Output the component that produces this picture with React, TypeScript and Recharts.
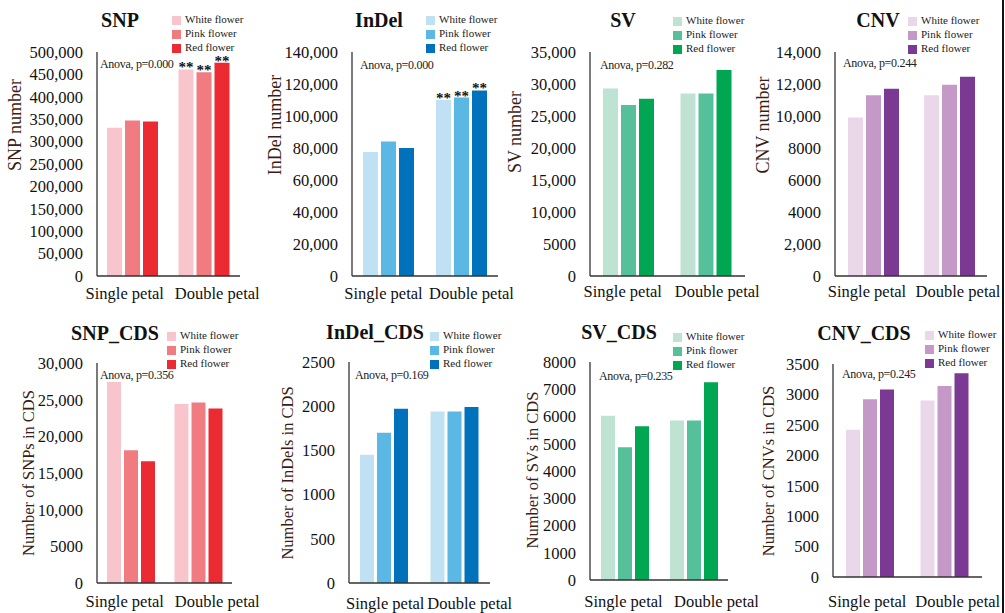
import { BarChart, Bar, XAxis, YAxis, Legend, LabelList } from "recharts";

const categories = ["Single petal", "Double petal"];
const flowers = ["White flower", "Pink flower", "Red flower"];

// each row: [white, pink, red] for one category
const snpValues = [[331000, 347000, 345000], [461000, 455000, 476000]];
const indelValues = [[77500, 84000, 80000], [110000, 111500, 116000]];
const svValues = [[29300, 26700, 27700], [28500, 28500, 32200]];
const cnvValues = [[9900, 11300, 11700], [11300, 11950, 12450]];
const snpCdsValues = [[27400, 18100, 16600], [24400, 24600, 23800]];
const indelCdsValues = [[1450, 1700, 1970], [1940, 1940, 1990]];
const svCdsValues = [[6030, 4870, 5640], [5850, 5850, 7260]];
const cnvCdsValues = [[2420, 2920, 3080], [2900, 3140, 3350]];

const snpTicks = [0, 50000, 100000, 150000, 200000, 250000, 300000, 350000, 400000, 450000, 500000];
const snpTickLabels = ["0", "50,000", "100,000", "150,000", "200,000", "250,000", "300,000", "350,000", "400,000", "450,000", "500,000"];
const indelTicks = [0, 20000, 40000, 60000, 80000, 100000, 120000, 140000];
const indelTickLabels = ["0", "20,000", "40,000", "60,000", "80,000", "100,000", "120,000", "140,000"];
const svTicks = [0, 5000, 10000, 15000, 20000, 25000, 30000, 35000];
const svTickLabels = ["0", "5000", "10,000", "15,000", "20,000", "25,000", "30,000", "35,000"];
const cnvTicks = [0, 2000, 4000, 6000, 8000, 10000, 12000, 14000];
const cnvTickLabels = ["0", "2,000", "4000", "6000", "8000", "10,000", "12,000", "14,000"];
const snpCdsTicks = [0, 5000, 10000, 15000, 20000, 25000, 30000];
const snpCdsTickLabels = ["0", "5000", "10,000", "15,000", "20,000", "25,000", "30,000"];
const indelCdsTicks = [0, 500, 1000, 1500, 2000, 2500];
const indelCdsTickLabels = ["0", "500", "1000", "1500", "2000", "2500"];
const svCdsTicks = [0, 1000, 2000, 3000, 4000, 5000, 6000, 7000, 8000];
const svCdsTickLabels = ["0", "1000", "2000", "3000", "4000", "5000", "6000", "7000", "8000"];
const cnvCdsTicks = [0, 500, 1000, 1500, 2000, 2500, 3000, 3500];
const cnvCdsTickLabels = ["0", "500", "1000", "1500", "2000", "2500", "3000", "3500"];

const reds = ["#F9C5CC", "#F07C82", "#EC2A32"];
const blues = ["#C0E1F3", "#5BB7E4", "#0072BB"];
const greens = ["#BEE3D3", "#56C09B", "#00A651"];
const purples = ["#EAD8EA", "#C498C7", "#7C3994"];

const FONT = '"Liberation Serif", "Times New Roman", serif';
const YW = 95;
const TM = 10;
const RM = 30;
const XH = 40;

type Panel = {
  title: string;
  yLabel: string;
  values: number[][];
  ticks: number[];
  tickLabels: string[];
  colors: string[];
  anova: string;
  sig: boolean;
  plot: number[]; // x0, y0, x1, y1
  titlePos: number[];
  legendPos: number[];
  anovaPos: number[];
  yLabelPos: number[];
  yLabelSize: number;
  labelDx: number[];
  labelGap: number;
  barSize: number;
};

const panels: Panel[] = [
  {
    title: "SNP", yLabel: "SNP number", values: snpValues, ticks: snpTicks, tickLabels: snpTickLabels,
    colors: reds, anova: "Anova, p=0.000", sig: true, plot: [97, 52, 240, 276],
    titlePos: [120, 20], legendPos: [172, 12], anovaPos: [100, 64], yLabelPos: [15, 125], yLabelSize: 18,
    labelDx: [-8, 13], labelGap: 11, barSize: 15,
  },
  {
    title: "InDel", yLabel: "InDel number", values: indelValues, ticks: indelTicks, tickLabels: indelTickLabels,
    colors: blues, anova: "Anova, p=0.000", sig: true, plot: [352, 52, 498, 276],
    titlePos: [379, 20], legendPos: [426, 12], anovaPos: [360, 65], yLabelPos: [275, 125], yLabelSize: 18,
    labelDx: [-5, 10], labelGap: 11, barSize: 15,
  },
  {
    title: "SV", yLabel: "SV number", values: svValues, ticks: svTicks, tickLabels: svTickLabels,
    colors: greens, anova: "Anova, p=0.282", sig: false, plot: [590, 52, 745, 276],
    titlePos: [623, 20], legendPos: [673, 13], anovaPos: [600, 65], yLabelPos: [515, 132], yLabelSize: 18,
    labelDx: [-6, 11], labelGap: 9, barSize: 15,
  },
  {
    title: "CNV", yLabel: "CNV number", values: cnvValues, ticks: cnvTicks, tickLabels: cnvTickLabels,
    colors: purples, anova: "Anova, p=0.244", sig: false, plot: [835, 52, 987, 276],
    titlePos: [878, 20], legendPos: [908, 13], anovaPos: [843, 63], yLabelPos: [763, 125], yLabelSize: 18,
    labelDx: [-6, 9], labelGap: 9, barSize: 15,
  },
  {
    title: "SNP_CDS", yLabel: "Number of SNPs in CDS", values: snpCdsValues, ticks: snpCdsTicks, tickLabels: snpCdsTickLabels,
    colors: reds, anova: "Anova, p=0.356", sig: false, plot: [97, 363, 232, 583],
    titlePos: [115, 333], legendPos: [167, 328], anovaPos: [100, 375], yLabelPos: [28, 473], yLabelSize: 16.5,
    labelDx: [-6, 19], labelGap: 12, barSize: 14,
  },
  {
    title: "InDel_CDS", yLabel: "Number of InDels in CDS", values: indelCdsValues, ticks: indelCdsTicks, tickLabels: indelCdsTickLabels,
    colors: blues, anova: "Anova, p=0.169", sig: false, plot: [349, 362, 490, 583],
    titlePos: [375, 332], legendPos: [430, 328], anovaPos: [355, 375], yLabelPos: [287, 473], yLabelSize: 16.5,
    labelDx: [1, 15], labelGap: 14, barSize: 14,
  },
  {
    title: "SV_CDS", yLabel: "Number of SVs in CDS", values: svCdsValues, ticks: svCdsTicks, tickLabels: svCdsTickLabels,
    colors: greens, anova: "Anova, p=0.235", sig: false, plot: [590, 362, 728, 580],
    titlePos: [619, 332], legendPos: [673, 329], anovaPos: [599, 376], yLabelPos: [532, 470], yLabelSize: 16.5,
    labelDx: [-1, 23], labelGap: 15, barSize: 14,
  },
  {
    title: "CNV_CDS", yLabel: "Number of CNVs in CDS", values: cnvCdsValues, ticks: cnvCdsTicks, tickLabels: cnvCdsTickLabels,
    colors: purples, anova: "Anova, p=0.245", sig: false, plot: [833, 364, 982, 577],
    titlePos: [864, 333], legendPos: [925, 327], anovaPos: [842, 374], yLabelPos: [768, 471], yLabelSize: 16.5,
    labelDx: [-3, 13], labelGap: 18, barSize: 14,
  },
];

const keys = ["w", "p", "r"];

const PanelChart = ({ p }: { p: Panel }) => {
  const [x0, y0, x1, y1] = p.plot;
  const left = x0 - YW;
  const top = y0 - TM;
  const width = x1 - x0 + YW + RM;
  const height = y1 - y0 + TM + XH;
  const data = p.values.map((row, i) => ({ cat: categories[i], w: row[0], p: row[1], r: row[2] }));
  const axisStyle = { stroke: "#333", strokeWidth: 1.3 };

  const xTick = (props: any) => {
    const idx = categories.indexOf(props.payload.value);
    return (
      <text
        x={props.x + p.labelDx[idx]}
        y={y1 - top + p.labelGap + 12}
        textAnchor="middle"
        fontSize={16.5}
        fontFamily={FONT}
        fill="#111"
      >
        {props.payload.value}
      </text>
    );
  };

  const yLabel = () => {
    const lx = p.yLabelPos[0] - left;
    const ly = p.yLabelPos[1] - top;
    return (
      <text
        x={lx}
        y={ly}
        transform={`rotate(-90 ${lx} ${ly})`}
        textAnchor="middle"
        dominantBaseline="central"
        fontSize={p.yLabelSize}
        fontFamily={FONT}
        fill="#3a1d14"
      >
        {p.yLabel}
      </text>
    );
  };

  const stars = (props: any) => {
    if (!p.sig || props.index !== 1) return null;
    return (
      <text
        x={props.x + props.width / 2}
        y={props.y + 3}
        textAnchor="middle"
        fontSize={15}
        fontWeight="bold"
        fontFamily={FONT}
        fill="#111"
      >
        **
      </text>
    );
  };

  return (
    <div style={{ position: "absolute", left, top }}>
      <BarChart
        width={width}
        height={height}
        data={data}
        margin={{ top: TM, right: RM, left: 0, bottom: 0 }}
        barGap={3}
        style={{ overflow: "visible" }}
      >
        <XAxis
          dataKey="cat"
          height={XH}
          tickLine={false}
          tickSize={0}
          axisLine={axisStyle}
          tick={xTick}
          interval={0}
        />
        <YAxis
          domain={[0, p.ticks[p.ticks.length - 1]]}
          ticks={p.ticks}
          interval={0}
          width={YW}
          tickLine={false}
          tickSize={0}
          tickMargin={14}
          axisLine={axisStyle}
          tick={{ fontSize: 16.5, fill: "#111", fontFamily: FONT }}
          tickFormatter={(v: number) => p.tickLabels[p.ticks.indexOf(v)]}
          label={{ content: yLabel }}
        />
        <Legend
          layout="vertical"
          align="center"
          verticalAlign="middle"
          iconType="square"
          iconSize={9}
          itemSorter={(item: any) => flowers.indexOf(item.value)}
          formatter={(value: string) => (
            <span style={{ color: "#222", fontFamily: FONT, fontSize: 11 }}>{value}</span>
          )}
          wrapperStyle={{
            top: p.legendPos[1] - top,
            left: p.legendPos[0] - left,
            width: "auto",
            fontSize: 11,
            lineHeight: "14px",
            fontFamily: FONT,
          }}
        />
        {keys.map((k, i) => (
          <Bar
            key={k}
            dataKey={k}
            name={flowers[i]}
            fill={p.colors[i]}
            barSize={p.barSize}
            legendType="square"
            isAnimationActive={false}
          >
            {p.sig && <LabelList dataKey={k} content={stars} />}
          </Bar>
        ))}
      </BarChart>
    </div>
  );
};

export default function App() {
  return (
    <div
      style={{
        position: "absolute",
        left: 0,
        top: 0,
        width: 1005,
        height: 613,
        background: "#fff",
        overflow: "hidden",
        fontFamily: FONT,
      }}
    >
      {panels.map((p) => (
        <PanelChart key={p.title} p={p} />
      ))}
      {panels.map((p) => (
        <div
          key={p.title + "-t"}
          style={{
            position: "absolute",
            left: p.titlePos[0],
            top: p.titlePos[1] - 12,
            transform: "translateX(-50%)",
            fontSize: 20,
            lineHeight: "24px",
            fontWeight: "bold",
            fontFamily: FONT,
            color: "#111",
            whiteSpace: "nowrap",
          }}
        >
          {p.title}
        </div>
      ))}
      {panels.map((p) => (
        <div
          key={p.title + "-a"}
          style={{
            position: "absolute",
            left: p.anovaPos[0],
            top: p.anovaPos[1] - 7,
            fontSize: 12,
            lineHeight: "14px",
            fontFamily: FONT,
            letterSpacing: -0.3,
            color: "#222",
            whiteSpace: "nowrap",
          }}
        >
          {p.anova}
        </div>
      ))}
      <div style={{ position: "absolute", left: 1002, top: 0, width: 1.5, height: 613, background: "#111" }} />
    </div>
  );
}
